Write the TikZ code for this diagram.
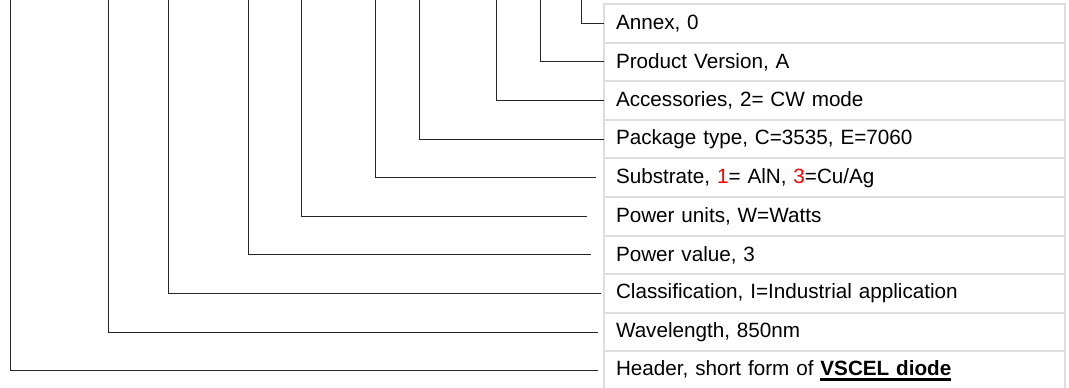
\documentclass[tikz,border=0pt]{standalone}
\usepackage{fontspec}
\setmainfont{Liberation Sans}
\usepackage{tikz}
\usetikzlibrary{positioning}

\newsavebox\ulbox
\newcommand{\boldul}[1]{\sbox\ulbox{#1}\rlap{\rule[-4pt]{\wd\ulbox}{2pt}}\usebox\ulbox}

\begin{document}
\begin{tikzpicture}[x=0.75pt,y=0.75pt,font=\fontsize{15.5}{18}\selectfont]
    \tikzstyle{row}=[draw=black!13,line width=1.5pt,rectangle,minimum height=28.95pt,
      text width=327.75pt,inner xsep=9pt,inner ysep=0pt,outer sep=0pt,align=left]
    \tikzstyle{lead}=[black!85,line width=0.75pt]
    \useasboundingbox (0,0) rectangle (1069,388);
    % table rows
    \node[row,anchor=north west] (R_1) at (604,384) {Annex, 0};
    \node[row,below=0pt of R_1] (R_2) {Product Version, A};
    \node[row,below=0pt of R_2] (R_3) {Accessories, 2= CW mode};
    \node[row,below=0pt of R_3] (R_4) {Package type, C=3535, E=7060};
    \node[row,below=0pt of R_4] (R_5) {Substrate, \textcolor{red}{1}= AlN, \textcolor{red}{3}=Cu/Ag};
    \node[row,below=0pt of R_5] (R_6) {Power units, W=Watts};
    \node[row,below=0pt of R_6] (R_7) {Power value, 3};
    \node[row,below=0pt of R_7] (R_8) {Classification, I=Industrial application};
    \node[row,below=0pt of R_8] (R_9) {Wavelength, 850nm};
    \node[row,below=0pt of R_9] (R_10) {Header, short form of \boldul{\textbf{VSCEL diode}}};
    % top ends of the leads
    \coordinate (T_1) at (581,388);
    \coordinate (T_2) at (540,388);
    \coordinate (T_3) at (496,388);
    \coordinate (T_4) at (419,388);
    \coordinate (T_5) at (375,388);
    \coordinate (T_6) at (301,388);
    \coordinate (T_7) at (248,388);
    \coordinate (T_8) at (168,388);
    \coordinate (T_9) at (108,388);
    \coordinate (T_10) at (10,388);
    \draw [lead] (T_1) |- (R_1.west);
    \draw [lead] (T_2) |- (R_2.west);
    \draw [lead] (T_3) |- (R_3.west);
    \draw [lead] (T_4) |- (R_4.west);
    \draw [lead,shorten >=6pt] (T_5) |- (R_5.west);
    \draw [lead,shorten >=13pt] (T_6) |- (R_6.west);
    \draw [lead,shorten >=10pt] (T_7) |- (R_7.west);
    \draw [lead,shorten >=2pt] (T_8) |- (R_8.west);
    \draw [lead,shorten >=4.5pt] (T_9) |- (R_9.west);
    \draw [lead,shorten >=4.5pt] (T_10) |- (R_10.west);
\end{tikzpicture}
\end{document}
